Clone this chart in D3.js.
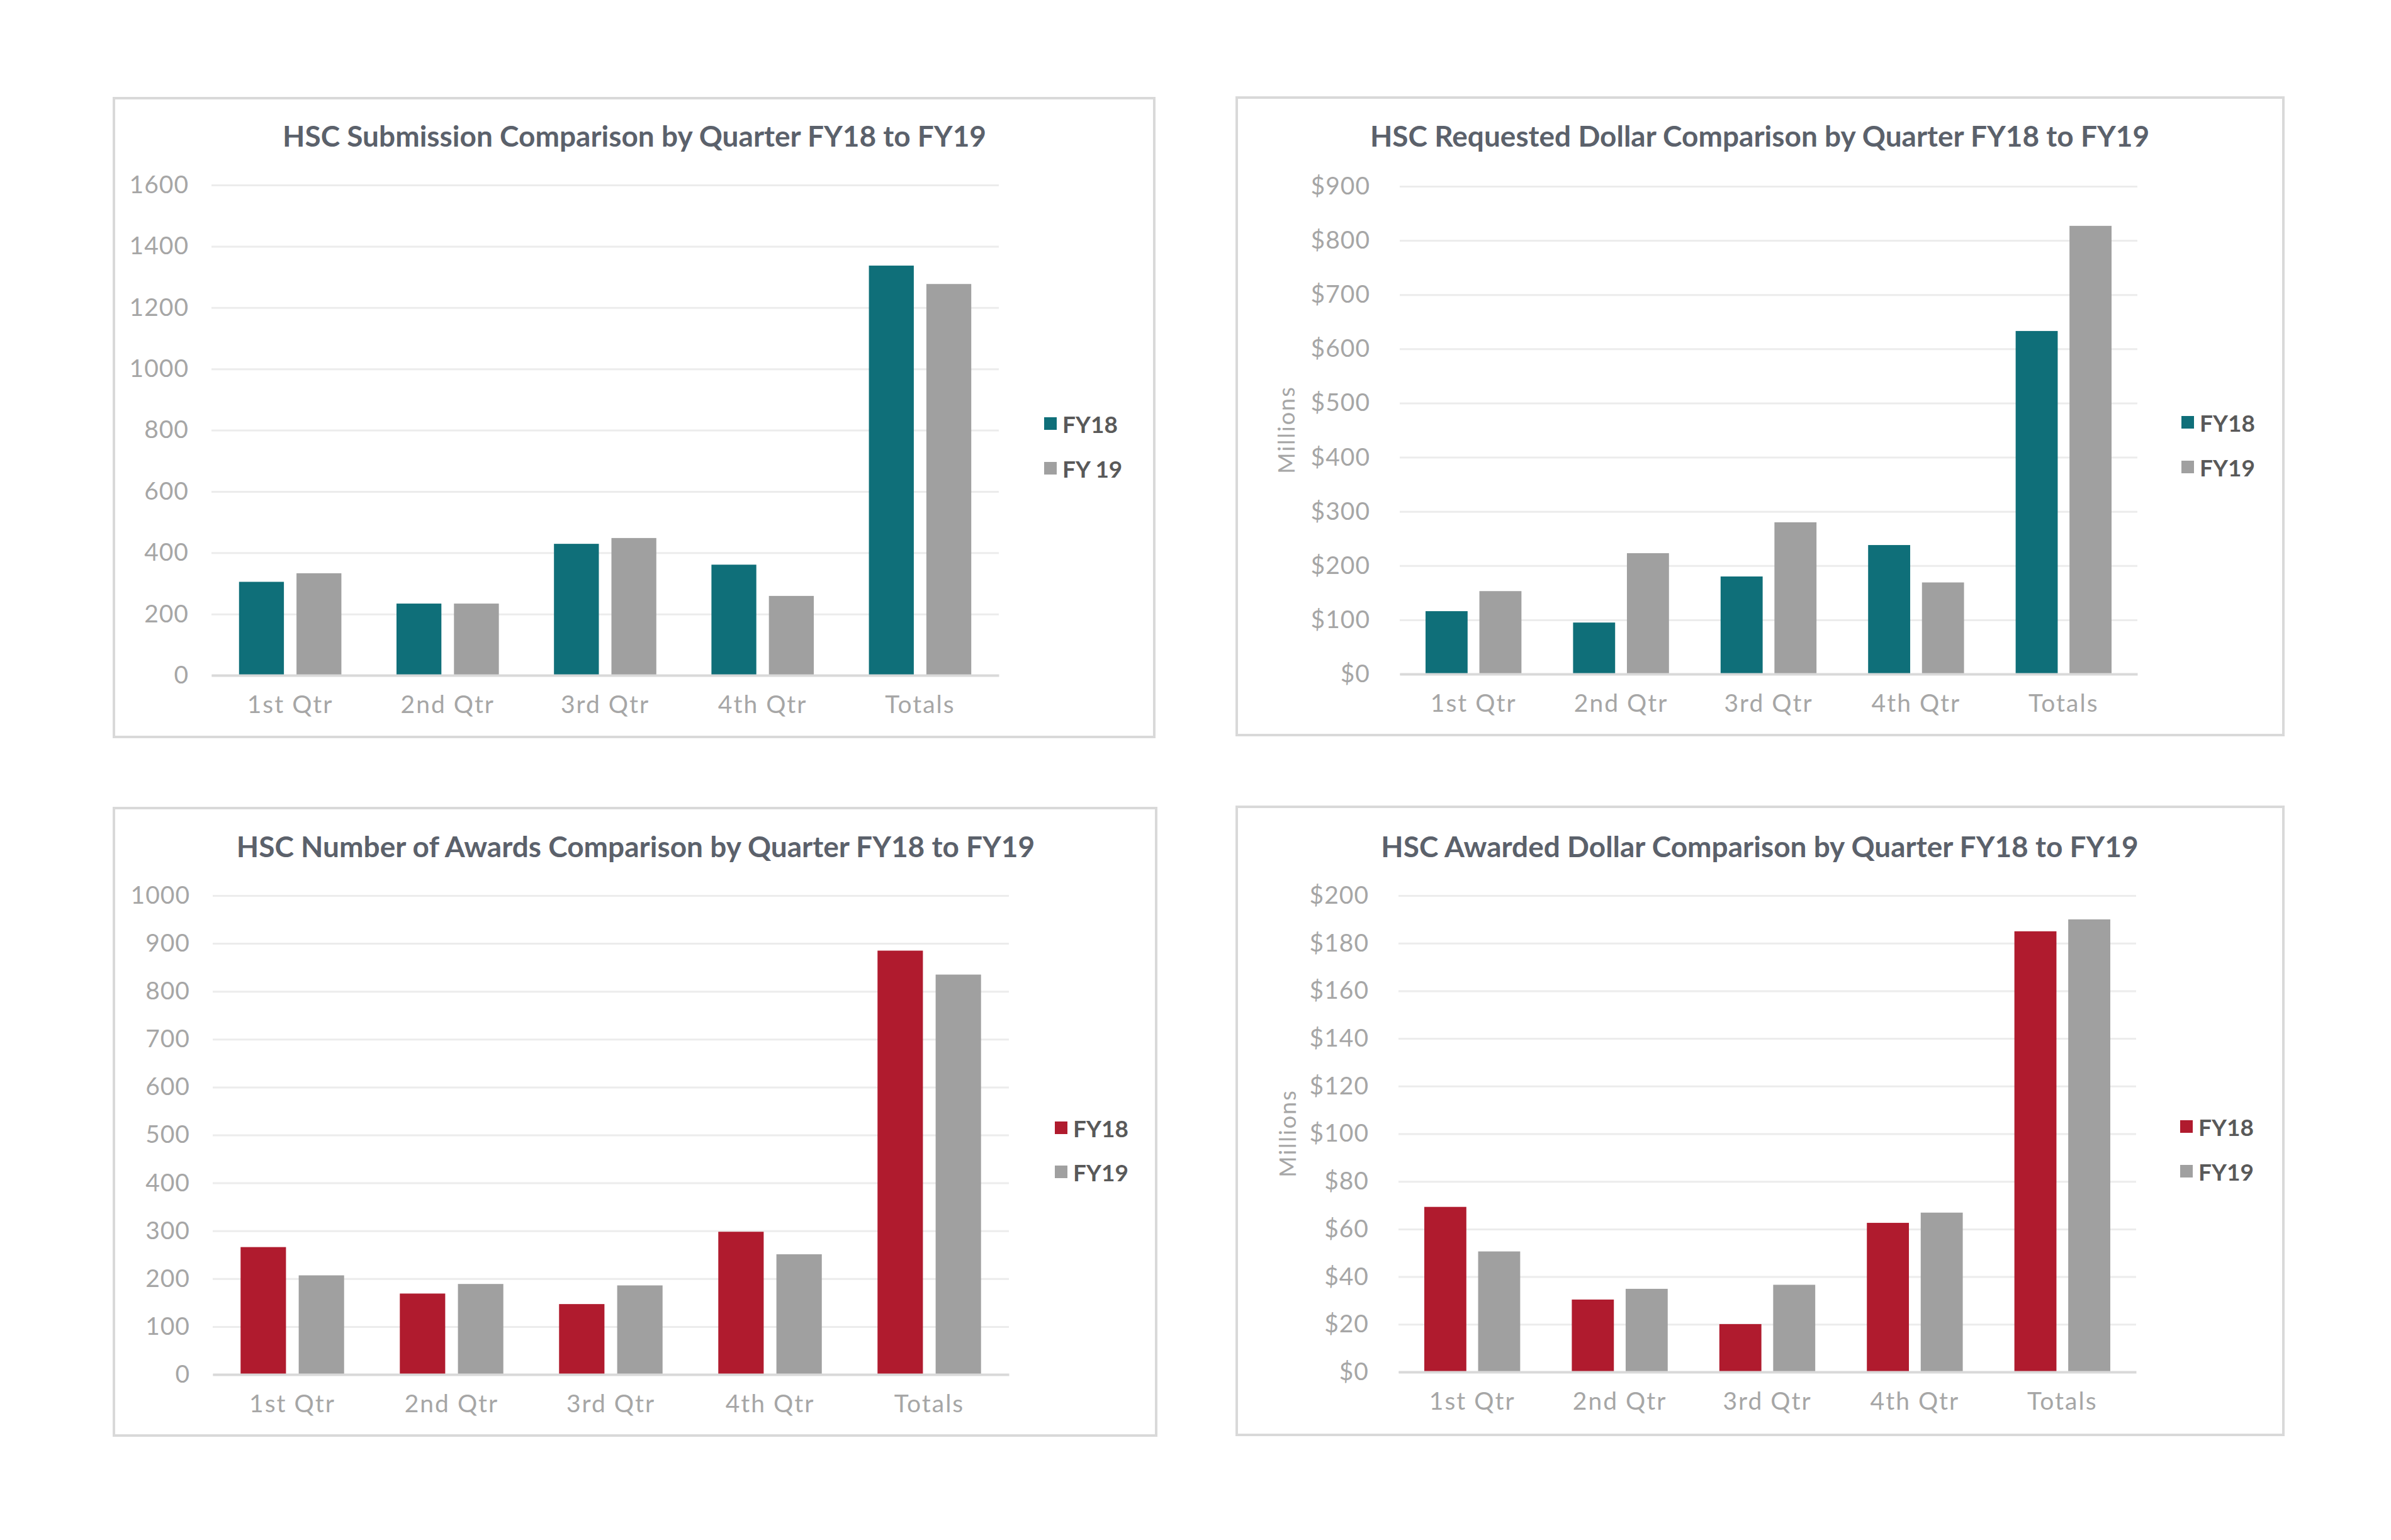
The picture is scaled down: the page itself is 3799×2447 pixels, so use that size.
<!DOCTYPE html>
<html>
<head>
<meta charset="utf-8">
<script src="https://cdn.jsdelivr.net/npm/d3@7"></script>
<style>
  html, body { margin: 0; padding: 0; background: #ffffff; }
  svg { display: block; }
</style>
</head>
<body>
<svg id="chart" width="3799" height="2447"></svg>
<script>
// ---------------- DATA ----------------
const categories = ["1st Qtr", "2nd Qtr", "3rd Qtr", "4th Qtr", "Totals"];

const submissionTitle = "HSC Submission Comparison by Quarter FY18 to FY19";
const submissionSeries = ["FY18", "FY 19"];
const submissionFY18 = [305, 234, 429, 361, 1337];
const submissionFY19 = [333, 234, 448, 259, 1277];
const submissionTicks = [0, 200, 400, 600, 800, 1000, 1200, 1400, 1600];

const requestedTitle = "HSC Requested Dollar Comparison by Quarter FY18 to FY19";
const requestedSeries = ["FY18", "FY19"];
const requestedFY18 = [116, 95, 180, 238, 633];
const requestedFY19 = [153, 223, 280, 169, 827];
const requestedTicks = [0, 100, 200, 300, 400, 500, 600, 700, 800, 900];

const awardsTitle = "HSC Number of Awards Comparison by Quarter FY18 to FY19";
const awardsSeries = ["FY18", "FY19"];
const awardsFY18 = [266, 169, 147, 298, 885];
const awardsFY19 = [207, 189, 186, 251, 835];
const awardsTicks = [0, 100, 200, 300, 400, 500, 600, 700, 800, 900, 1000];

const awardedTitle = "HSC Awarded Dollar Comparison by Quarter FY18 to FY19";
const awardedSeries = ["FY18", "FY19"];
const awardedFY18 = [69.3, 30.4, 20.1, 62.6, 185];
const awardedFY19 = [50.6, 34.9, 36.6, 66.9, 190];
const awardedTicks = [0, 20, 40, 60, 80, 100, 120, 140, 160, 180, 200];

const axisTitleText = "Millions";

// ---------------- STYLE ----------------
const TEAL = "#0f6f79";
const RED = "#b01b2e";
const GRAY = "#a0a0a0";
const FONT = "Lato, 'Open Sans', sans-serif";

const svg = d3.select("#chart");

function drawChart(cfg) {
  const g = svg.append("g");
  // frame
  g.append("rect")
    .attr("x", cfg.box[0]).attr("y", cfg.box[1])
    .attr("width", cfg.box[2] - cfg.box[0]).attr("height", cfg.box[3] - cfg.box[1])
    .attr("fill", "#ffffff").attr("stroke", "#d9d9d9").attr("stroke-width", 4);

  const [pl, pt, pr, pb] = cfg.plot;
  const x0 = d3.scaleBand().domain(categories).range([pl, pr]).paddingInner(0).paddingOuter(0);
  const bw = x0.bandwidth();
  const x1 = d3.scaleBand().domain(cfg.series)
    .range([0.175 * bw, 0.825 * bw]).paddingInner(0.219).paddingOuter(0);
  const y = d3.scaleLinear().domain([cfg.ticks[0], cfg.ticks[cfg.ticks.length - 1]]).range([pb, pt]);

  // gridlines + y labels
  const yAxis = d3.axisLeft(y).tickValues(cfg.ticks).tickSize(-(pr - pl)).tickPadding(cfg.tickPad)
    .tickFormat(cfg.fmt);
  const ya = g.append("g").attr("transform", `translate(${pl},0)`).call(yAxis);
  ya.select(".domain").remove();
  ya.selectAll(".tick line").attr("stroke", "#ececec").attr("stroke-width", 3);
  ya.selectAll(".tick text")
    .attr("fill", "#a6a6a6").style("font-family", FONT).style("font-size", "39px")
    .style("font-weight", 400).style("letter-spacing", "1px");

  // bars
  const rows = categories.map((c, i) => ({ cat: c, vals: cfg.series.map((s, k) => ({ s, k, v: cfg.values[k][i] })) }));
  const grp = g.append("g").selectAll("g").data(rows).join("g")
    .attr("transform", d => `translate(${x0(d.cat)},0)`);
  grp.selectAll("rect").data(d => d.vals).join("rect")
    .attr("x", d => x1(d.s)).attr("width", x1.bandwidth())
    .attr("y", d => y(d.v)).attr("height", d => y(0) - y(d.v))
    .attr("fill", d => cfg.colors[d.k]);

  // x axis
  const xAxis = d3.axisBottom(x0).tickSize(0).tickPadding(cfg.xPad);
  const xa = g.append("g").attr("transform", `translate(0,${pb})`).call(xAxis);
  xa.select(".domain").attr("stroke", "#d9d9d9").attr("stroke-width", 4);
  xa.selectAll(".tick text")
    .attr("fill", "#a6a6a6").style("font-family", FONT).style("font-size", "39px")
    .style("font-weight", 400).style("letter-spacing", "2px");

  // title
  g.append("text")
    .attr("x", cfg.titleX).attr("y", cfg.titleY).attr("text-anchor", "middle")
    .attr("fill", "#5b616b").style("font-family", FONT).style("font-size", "46px")
    .style("font-weight", 700).text(cfg.title);

  // axis title
  if (cfg.millions) {
    g.append("text")
      .attr("transform", `translate(${cfg.millions[0]},${cfg.millions[1]}) rotate(-90)`)
      .attr("text-anchor", "middle").attr("dominant-baseline", "central")
      .attr("fill", "#a6a6a6").style("font-family", FONT).style("font-size", "36px")
      .style("letter-spacing", "2px")
      .text(axisTitleText);
  }

  // legend
  const lg = g.append("g").selectAll("g").data(cfg.series).join("g")
    .attr("transform", (d, i) => `translate(${cfg.legend[0]},${cfg.legend[1] + i * cfg.legend[2]})`);
  lg.append("rect").attr("x", 0).attr("y", -10).attr("width", 20).attr("height", 20)
    .attr("fill", (d, i) => cfg.colors[i]);
  lg.append("text").attr("x", 29).attr("y", 0).attr("dominant-baseline", "central")
    .attr("fill", "#595959").style("font-family", FONT).style("font-size", "37px")
    .style("font-weight", 700).text(d => d);
}

drawChart({
  title: submissionTitle, series: submissionSeries, values: [submissionFY18, submissionFY19],
  ticks: submissionTicks, fmt: d3.format("d"), colors: [TEAL, GRAY],
  box: [181, 156, 1834, 1171], plot: [336, 294, 1587, 1073],
  titleX: 1008, titleY: 233, tickPad: 36, xPad: 32,
  legend: [1659, 673, 71], millions: null
});

drawChart({
  title: requestedTitle, series: requestedSeries, values: [requestedFY18, requestedFY19],
  ticks: requestedTicks, fmt: d => "$" + d, colors: [TEAL, GRAY],
  box: [1965, 155, 3628, 1168], plot: [2224, 296, 3396, 1071],
  titleX: 2796, titleY: 233, tickPad: 47, xPad: 32,
  legend: [3466, 671, 71], millions: [2043, 683]
});

drawChart({
  title: awardsTitle, series: awardsSeries, values: [awardsFY18, awardsFY19],
  ticks: awardsTicks, fmt: d3.format("d"), colors: [RED, GRAY],
  box: [181, 1284, 1837, 2281], plot: [338, 1423, 1603, 2184],
  titleX: 1010, titleY: 1362, tickPad: 36, xPad: 32,
  legend: [1676, 1792, 70], millions: null
});

drawChart({
  title: awardedTitle, series: awardedSeries, values: [awardedFY18, awardedFY19],
  ticks: awardedTicks, fmt: d => "$" + d, colors: [RED, GRAY],
  box: [1965, 1282, 3628, 2280], plot: [2222, 1423, 3394, 2180],
  titleX: 2796, titleY: 1362, tickPad: 47, xPad: 32,
  legend: [3464, 1790, 71], millions: [2045, 1801]
});
</script>
</body>
</html>
